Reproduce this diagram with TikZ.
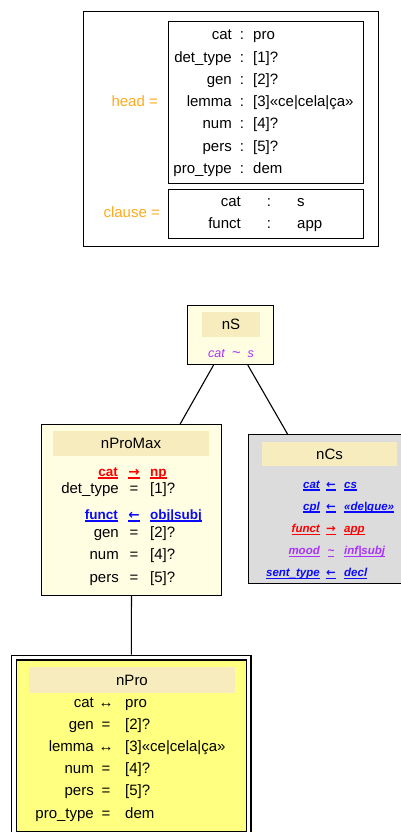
\documentclass[tikz,border=0pt]{standalone}
\usepackage{fontspec}
\setmainfont{Liberation Sans}
\newfontfamily\arrowfont{DejaVu Sans}
\usetikzlibrary{positioning}

\definecolor{palenode}{RGB}{255,253,226}
\definecolor{titlebg}{RGB}{247,236,190}
\definecolor{greynode}{RGB}{220,220,220}
\definecolor{yellownode}{RGB}{255,255,128}
\definecolor{fsorange}{RGB}{255,170,30}
\definecolor{rulered}{RGB}{255,0,0}
\definecolor{ruleblue}{RGB}{10,10,255}
\definecolor{rulepurple}{RGB}{170,50,255}

% underline each word with a thick rule
\newcommand{\ulword}[1]{\setbox0=\hbox{#1}\rlap{\rule[-2.6pt]{\wd0}{1.4pt}}\box0}

\tikzset{
  box/.style={draw, line width=1.1pt, inner sep=0pt, anchor=north west},
  titlebar/.style={fill=titlebg, inner sep=0pt, text depth=0pt},
  key/.style={anchor=base east, inner sep=0pt},
  op/.style={anchor=base, inner sep=0pt},
  val/.style={anchor=base west, inner sep=0pt},
  rulefont/.style={font=\fontsize{13.5}{16}\selectfont\bfseries},
  cstfont/.style={font=\fontsize{11.5}{14}\selectfont\bfseries\itshape},
  link/.style={line width=1.1pt}
}

\begin{document}
\begin{tikzpicture}[x=1pt,y=-1pt,font=\fontsize{15}{18}\selectfont]
\useasboundingbox (0,0) rectangle (401,832);

% feature structure
\node[box, minimum width=295pt, minimum height=235pt] (fs) at (83,11) {};
\node[box, minimum width=195pt, minimum height=162pt] (head) at (168,21) {};
\node[box, minimum width=195pt, minimum height=49pt] (clause) at (168,189) {};
\node[key, text=fsorange] (headlbl) at (158,107) {head =};
\node[key, text=fsorange] (clauselbl) at (160,217) {clause =};
\foreach \k/\v [count=\i] in {cat/pro, det\_type/{[1]?}, gen/{[2]?},
    lemma/{[3]«ce|cela|ça»}, num/{[4]?}, pers/{[5]?}, pro\_type/dem} {
  \node[key] (hk\i) at (232,17.8+22.2*\i) {\k};
  \node[op] (ho\i) at (242,17.8+22.2*\i) {:};
  \node[val] (hv\i) at (253,17.8+22.2*\i) {\v};
}
\foreach \k/\v [count=\i] in {cat/s, funct/app} {
  \node[key] (ck\i) at (241,184+22*\i) {\k};
  \node[op] (co\i) at (269,184+22*\i) {:};
  \node[val] (cv\i) at (297,184+22*\i) {\v};
}

% nS
\node[box, fill=palenode, minimum width=86pt, minimum height=59pt] (nS) at (187,305) {};
\node[titlebar, minimum width=58pt, minimum height=25pt] (nSt) at (231,324.5) {nS};
\node[op, text=rulepurple, font=\fontsize{12.5}{15}\selectfont\itshape] (nSc) at (231,357)
  {cat\ \ {\fontsize{15}{18}\selectfont\textasciitilde}\ \ s};

% nProMax
\node[box, fill=palenode, minimum width=180pt, minimum height=171pt] (nProMax) at (41,424) {};
\node[titlebar, minimum width=156pt, minimum height=25pt] (nProMaxt) at (131,443.5) {nProMax};
\node[key, rulefont, text=rulered] (pmk1) at (118,476) {\ulword{cat}};
\node[op, rulefont, text=rulered] (pmo1) at (134,476) {\ulword{\arrowfont →}};
\node[val, rulefont, text=rulered] (pmv1) at (150,476) {\ulword{np}};
\node[key, rulefont, text=ruleblue] (pmk2) at (118,519) {\ulword{funct}};
\node[op, rulefont, text=ruleblue] (pmo2) at (134,519) {\ulword{\arrowfont ←}};
\node[val, rulefont, text=ruleblue] (pmv2) at (150,519) {\ulword{obj|subj}};
\foreach \k/\v/\y [count=\i] in {det\_type/{[1]?}/493, gen/{[2]?}/537,
    num/{[4]?}/559, pers/{[5]?}/582} {
  \node[key] (pk\i) at (119,\y) {\k};
  \node[op] (po\i) at (134,\y) {=};
  \node[val] (pv\i) at (150,\y) {\v};
}

% nCs
\node[box, fill=greynode, minimum width=164pt, minimum height=149pt] (nCs) at (248,434) {};
\node[titlebar, minimum width=135pt, minimum height=24pt] (nCst) at (329.5,454) {nCs};
\foreach \k/\o/\v/\c [count=\i] in {cat/{\arrowfont ←}/cs/ruleblue,
    cpl/{\arrowfont ←}/«de|que»/ruleblue, funct/{\arrowfont →}/app/rulered,
    mood/\textasciitilde/inf|subj/rulepurple, sent\_type/{\arrowfont ←}/decl/ruleblue} {
  \node[key, cstfont, text=\c] (ck\i) at (320,465.8+22.2*\i) {\ulword{\k}};
  \node[op, cstfont, text=\c] (co\i) at (331,465.8+22.2*\i) {\ulword{\o}};
  \node[val, cstfont, text=\c] (cv\i) at (344,465.8+22.2*\i) {\ulword{\v}};
}

% nPro
\node[box, fill=yellownode, double, double distance=3.6pt, line width=1.2pt,
  minimum width=234.6pt, minimum height=176.4pt] (nPro) at (13.4,657) {};
\node[titlebar, minimum width=206pt, minimum height=26pt] (nProt) at (132,680) {nPro};
\foreach \k/\o/\v [count=\i] in {cat/↔/pro, gen/=/{[2]?}, lemma/↔/{[3]«ce|cela|ça»},
    num/=/{[4]?}, pers/=/{[5]?}, pro\_type/=/dem} {
  \node[key] (rk\i) at (94,684.8+22.2*\i) {\k};
  \node[op] (ro\i) at (106,684.8+22.2*\i) {\o};
  \node[val] (rv\i) at (125,684.8+22.2*\i) {\v};
}

\draw[link] (nS) -- (nProMax);
\draw[link] (nS) -- (nCs);
\draw[link, shorten >=2.4pt] (nProMax) -- (nPro);
\end{tikzpicture}
\end{document}
